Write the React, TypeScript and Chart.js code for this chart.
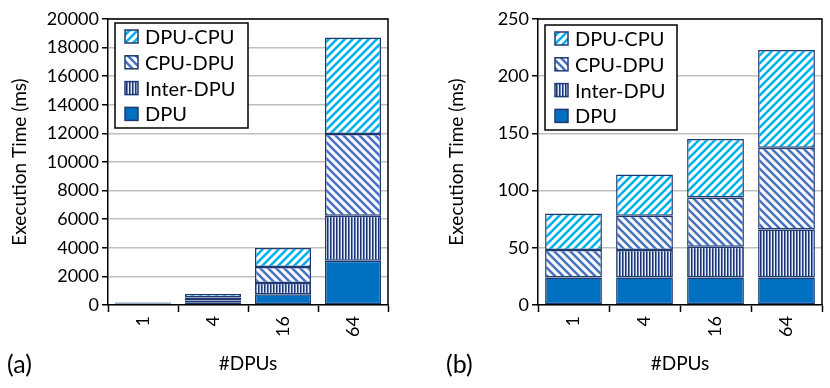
import React, { useEffect, useRef } from 'react';
import { Chart, registerables } from 'chart.js';

Chart.register(...registerables);

const categories = ['1', '4', '16', '64'];
const seriesNames = ['DPU', 'Inter-DPU', 'CPU-DPU', 'DPU-CPU'];
const yTitle = 'Execution Time (ms)';
const xTitle = '#DPUs';

// (a)
const dpuA = [50, 200, 750, 3100];
const interA = [0, 120, 780, 3150];
const cpuDpuA = [55, 200, 1120, 5700];
const dpuCpuA = [65, 250, 1330, 6750];
const maxA = 20000;
const stepA = 2000;

// (b)
const dpuB = [24, 24, 24, 24];
const interB = [0, 24, 27, 42];
const cpuDpuB = [24, 30, 43, 71.5];
const dpuCpuB = [32, 36, 51, 85.5];
const maxB = 250;
const stepB = 50;

const FONT = 'Lato, "Open Sans", sans-serif';
const NAVY = '#1F3A70';

function makePattern(kind: string): CanvasPattern | string {
  if (kind === 'DPU') return '#0070C0';
  const c = document.createElement('canvas');
  const ctx = c.getContext('2d')!;
  if (kind === 'Inter-DPU') {
    c.width = 3; c.height = 3;
    ctx.fillStyle = '#E4EBF7'; ctx.fillRect(0, 0, 3, 3);
    ctx.fillStyle = '#1B3572'; ctx.fillRect(0, 0, 1, 3);
    ctx.fillStyle = '#6F86B8'; ctx.fillRect(1, 0, 1, 3);
    return ctx.createPattern(c, 'repeat')!;
  }
  const s = 8;
  c.width = s; c.height = s;
  ctx.fillStyle = '#FFFFFF'; ctx.fillRect(0, 0, s, s);
  ctx.strokeStyle = kind === 'DPU-CPU' ? '#00B0F0' : '#4A72C4';
  ctx.lineWidth = 2.6;
  ctx.beginPath();
  if (kind === 'DPU-CPU') {
    ctx.moveTo(-2, s + 2); ctx.lineTo(s + 2, -2);
    ctx.moveTo(-2, 2); ctx.lineTo(2, -2);
    ctx.moveTo(s - 2, s + 2); ctx.lineTo(s + 2, s - 2);
  } else {
    ctx.moveTo(-2, -2); ctx.lineTo(s + 2, s + 2);
    ctx.moveTo(s - 2, -2); ctx.lineTo(s + 2, 2);
    ctx.moveTo(-2, s - 2); ctx.lineTo(2, s + 2);
  }
  ctx.stroke();
  return ctx.createPattern(c, 'repeat')!;
}

type Props = {
  series: number[][];
  max: number;
  step: number;
  yWidth: number;
  padRight: number;
  titleX: number;
  legendBox: { x: number; y: number; w: number; h: number };
};

function StackChart({ series, max, step, yWidth, padRight, titleX, legendBox }: Props) {
  const ref = useRef<HTMLCanvasElement | null>(null);
  useEffect(() => {
    const canvas = ref.current!;
    const fills = seriesNames.map((n) => makePattern(n));
    const boxPlugin = {
      id: 'boxAndLegend',
      afterDatasetsDraw(chart: any) {
        const { ctx, chartArea } = chart;
        ctx.save();
        ctx.strokeStyle = '#000';
        ctx.lineWidth = 1.5;
        ctx.beginPath();
        ctx.moveTo(chartArea.left, chartArea.top);
        ctx.lineTo(chartArea.right, chartArea.top);
        ctx.lineTo(chartArea.right, chartArea.bottom);
        ctx.stroke();
        // legend
        const b = legendBox;
        ctx.fillStyle = '#fff';
        ctx.fillRect(b.x, b.y, b.w, b.h);
        ctx.strokeStyle = '#000';
        ctx.lineWidth = 1.5;
        ctx.strokeRect(b.x, b.y, b.w, b.h);
        const rowH = 25.8;
        const order = [3, 2, 1, 0];
        ctx.font = `20px ${FONT}`;
        ctx.textBaseline = 'middle';
        ctx.textAlign = 'left';
        order.forEach((di, i) => {
          const cy = b.y + 13.5 + i * rowH;
          const sx = b.x + 10;
          ctx.fillStyle = fills[di] as any;
          ctx.fillRect(sx, cy - 6.5, 13, 13);
          ctx.strokeStyle = NAVY;
          ctx.lineWidth = 1.5;
          ctx.strokeRect(sx, cy - 6.5, 13, 13);
          ctx.fillStyle = '#000';
          ctx.fillText(seriesNames[di], b.x + 30, cy + 1);
        });
        // y axis title
        ctx.save();
        ctx.translate(titleX, (chartArea.top + chartArea.bottom) / 2);
        ctx.rotate(-Math.PI / 2);
        ctx.font = `19px ${FONT}`;
        ctx.textAlign = 'center';
        ctx.textBaseline = 'middle';
        ctx.fillStyle = '#000';
        ctx.fillText(yTitle, 0, 0);
        ctx.restore();
        ctx.restore();
      },
    };
    const chart = new Chart(canvas, {
      type: 'bar',
      data: {
        labels: categories,
        datasets: seriesNames.map((name, i) => ({
          label: name,
          data: series[i],
          backgroundColor: fills[i] as any,
          borderColor: NAVY,
          borderWidth: 1.5,
          borderSkipped: false,
          barPercentage: 0.8,
          categoryPercentage: 1,
        })),
      },
      options: {
        responsive: false,
        animation: false,
        devicePixelRatio: 1,
        layout: { padding: { left: 0, top: 19, right: padRight, bottom: 13 } },
        plugins: { legend: { display: false }, tooltip: { enabled: false } },
        scales: {
          x: {
            stacked: true,
            grid: { display: true, drawOnChartArea: false, offset: true, tickLength: 7, tickColor: '#000', tickWidth: 1.5 },
            border: { color: '#000', width: 1.5 },
            ticks: { minRotation: 90, maxRotation: 90, color: '#000', font: { family: FONT, size: 18 }, padding: 4 },
            title: { display: true, text: xTitle, color: '#000', font: { family: FONT, size: 19 }, padding: { top: 0, bottom: 0 } },
            afterFit: (s: any) => { s.height = 70; },
          },
          y: {
            stacked: true,
            min: 0,
            max,
            ticks: { stepSize: step, color: '#000', font: { family: FONT, size: 18 }, padding: 3, callback: (v: any) => String(v) },
            grid: { color: '#BFBFBF', lineWidth: 1.5, tickLength: 6, tickColor: '#000', tickWidth: 1.5 },
            border: { color: '#000', width: 1.5 },
            title: { display: false },
            afterFit: (s: any) => { s.width = yWidth; },
          },
        },
      },
      plugins: [boxPlugin],
    });
    return () => chart.destroy();
  }, []);
  return <canvas ref={ref} width={415} height={388} style={{ display: 'block', width: 415, height: 388 }} />;
}

export default function App() {
  return (
    <div style={{ position: 'fixed', left: 0, top: 0, width: 830, height: 388, background: '#fff', overflow: 'hidden' }}>
      <div style={{ position: 'absolute', left: 0, top: 0 }}>
        <StackChart
          series={[dpuA, interA, cpuDpuA, dpuCpuA]}
          max={maxA}
          step={stepA}
          yWidth={108}
          padRight={27}
          titleX={20}
          legendBox={{ x: 115, y: 23, w: 133, h: 105 }}
        />
      </div>
      <div style={{ position: 'absolute', left: 415, top: 0 }}>
        <StackChart
          series={[dpuB, interB, cpuDpuB, dpuCpuB]}
          max={maxB}
          step={stepB}
          yWidth={123}
          padRight={8}
          titleX={42}
          legendBox={{ x: 130, y: 25, w: 132, h: 105 }}
        />
      </div>
      <div style={{ position: 'absolute', left: 7, top: 348, fontFamily: FONT, fontSize: 25, lineHeight: '30px', color: '#000' }}>(a)</div>
      <div style={{ position: 'absolute', left: 446, top: 348, fontFamily: FONT, fontSize: 25, lineHeight: '30px', color: '#000' }}>(b)</div>
    </div>
  );
}
